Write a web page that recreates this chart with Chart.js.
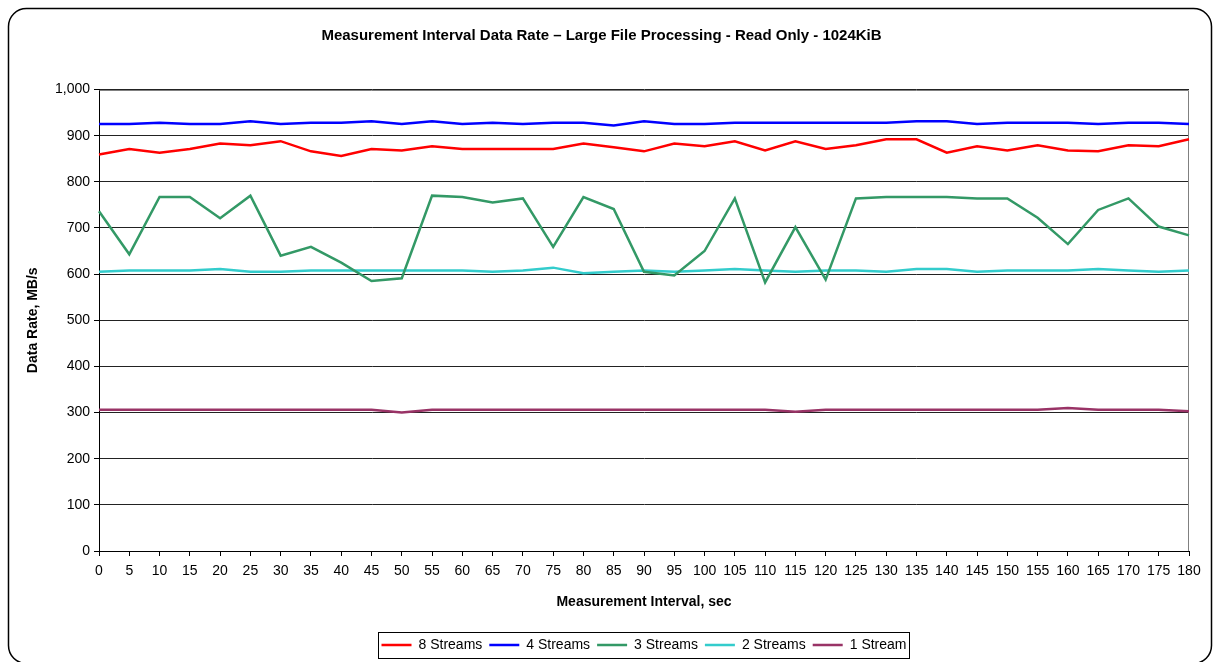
<!DOCTYPE html>
<html>
<head>
<meta charset="utf-8">
<script src="https://cdn.jsdelivr.net/npm/chart.js@4/dist/chart.umd.min.js"></script>
<style>
  html, body { margin: 0; padding: 0; background: #fff; }
  #wrap { width: 1214px; height: 662px; }
</style>
</head>
<body>
<div id="wrap"><canvas id="rateChart" width="1214" height="662"></canvas></div>
<script>
// time axis, seconds
const intervals = ['0', '5', '10', '15', '20', '25', '30', '35', '40', '45', '50', '55', '60',
    '65', '70', '75', '80', '85', '90', '95', '100', '105', '110', '115', '120', '125', '130',
    '135', '140', '145', '150', '155', '160', '165', '170', '175', '180'];

// data rate, MB/s
const streams8 = [859, 871, 863, 871, 883, 879, 888, 866, 856, 871, 868, 877, 871,
    871, 871, 871, 883, 875, 866, 883, 877, 888, 868, 888,
    871, 879, 892, 892, 863, 877, 868, 879, 868, 866, 879, 877, 892];
const streams4 = [925, 925, 928, 925, 925, 931, 925, 928, 928, 931, 925, 931, 925,
    928, 925, 928, 928, 922, 931, 925, 925, 928, 928, 928,
    928, 928, 928, 931, 931, 925, 928, 928, 928, 925, 928, 928, 925];
const streams3 = [736, 643, 767, 767, 721, 770, 640, 659, 625, 585, 591, 770, 767,
    755, 764, 659, 767, 741, 605, 597, 650, 764, 582, 702,
    588, 764, 767, 767, 767, 764, 764, 722, 665, 739, 764, 703, 684];
const streams2 = [605, 608, 608, 608, 611, 605, 605, 608, 608, 608, 608, 608, 608,
    605, 608, 614, 602, 605, 608, 605, 608, 611, 608, 605,
    608, 608, 605, 611, 611, 605, 608, 608, 608, 611, 608, 605, 608];
const stream1 = [306, 306, 306, 306, 306, 306, 306, 306, 306, 306, 300, 306, 306,
    306, 306, 306, 306, 306, 306, 306, 306, 306, 306, 302,
    306, 306, 306, 306, 306, 306, 306, 306, 310, 306, 306, 306, 303];

const FONT = "'Liberation Sans', Arial, sans-serif";

function series(label, data, color) {
    return {
        label: label,
        data: data,
        borderColor: color,
        backgroundColor: color,
        borderWidth: 2.5,
        pointRadius: 0,
        tension: 0
    };
}

// rounded frame + white background, plot border, legend box
const framePlugin = {
    id: 'frame',
    afterUpdate(chart) {
        // centre the legend under the plot area rather than the whole canvas
        const lg = chart.legend;
        const a = chart.chartArea;
        const shift = (a.left + a.right) / 2 - (lg.left + lg.right) / 2;
        lg.left += shift;
        lg.right += shift;
        lg.legendHitBoxes.forEach(h => { h.left += shift; });
    },
    beforeDraw(chart) {
        const ctx = chart.ctx;
        ctx.save();
        ctx.fillStyle = '#fff';
        ctx.fillRect(0, 0, chart.width, chart.height);
        ctx.beginPath();
        ctx.roundRect(8.5, 8.5, 1203, 655, 18);
        ctx.strokeStyle = '#000';
        ctx.lineWidth = 1.5;
        ctx.stroke();
        ctx.restore();
    },
    beforeDatasetsDraw(chart) {
        const a = chart.chartArea;
        const ctx = chart.ctx;
        ctx.save();
        ctx.strokeStyle = '#808080';
        ctx.lineWidth = 1;
        ctx.beginPath();
        ctx.moveTo(Math.round(a.left) + 0.5, Math.round(a.top) + 0.5);
        ctx.lineTo(Math.round(a.right) - 0.5, Math.round(a.top) + 0.5);
        ctx.lineTo(Math.round(a.right) - 0.5, Math.round(a.bottom));
        ctx.stroke();
        ctx.restore();
    },
    afterDraw(chart) {
        const boxes = chart.legend.legendHitBoxes;
        if (!boxes || !boxes.length) return;
        let l = Infinity, r = -Infinity, t = Infinity, b = -Infinity;
        boxes.forEach(h => {
            l = Math.min(l, h.left);
            r = Math.max(r, h.left + h.width);
            t = Math.min(t, h.top);
            b = Math.max(b, h.top + h.height);
        });
        const ctx = chart.ctx;
        ctx.save();
        ctx.strokeStyle = '#000';
        ctx.lineWidth = 1;
        ctx.strokeRect(Math.round(l - 4) + 0.5, Math.round(t - 6) + 0.5, Math.round(r - l + 6), Math.round(b - t + 12));
        ctx.restore();
    }
};

new Chart(document.getElementById('rateChart').getContext('2d'), {
    type: 'line',
    data: {
        labels: intervals,
        datasets: [
            series('8 Streams', streams8, '#ff0000'),
            series('4 Streams', streams4, '#0000ff'),
            series('3 Streams', streams3, '#339966'),
            series('2 Streams', streams2, '#33cccc'),
            series('1 Stream', stream1, '#993366')
        ]
    },
    options: {
        responsive: false,
        animation: false,
        layout: { padding: { left: 14, right: 25, top: 10, bottom: 0 } },
        plugins: {
            title: {
                display: true,
                text: 'Measurement Interval Data Rate \u2013 Large File Processing - Read Only - 1024KiB',
                color: '#000',
                font: { family: FONT, size: 15, weight: 'bold' },
                padding: { top: 17, bottom: 44.5 }
            },
            legend: {
                position: 'bottom',
                labels: {
                    color: '#000',
                    font: { family: FONT, size: 14 },
                    usePointStyle: true,
                    pointStyle: 'line',
                    pointStyleWidth: 30,
                    padding: 7
                }
            },
            tooltip: { enabled: false }
        },
        scales: {
            x: {
                offset: false,
                grid: {
                    drawOnChartArea: false,
                    drawTicks: true,
                    tickLength: 5,
                    color: '#000'
                },
                border: { color: '#000', width: 1 },
                ticks: {
                    color: '#000',
                    font: { family: FONT, size: 14 },
                    maxRotation: 0,
                    autoSkip: false,
                    padding: 7
                },
                title: {
                    display: true,
                    text: 'Measurement Interval, sec',
                    color: '#000',
                    font: { family: FONT, size: 14, weight: 'bold' },
                    padding: { top: 4, bottom: 20 }
                },
                afterFit(s) { s.height = 80; }
            },
            y: {
                min: 0,
                max: 1000,
                grid: {
                    color: '#222',
                    tickLength: 5,
                    tickColor: '#000'
                },
                border: { color: '#000', width: 1 },
                ticks: {
                    stepSize: 100,
                    color: '#000',
                    font: { family: FONT, size: 14 },
                    padding: 4
                },
                title: {
                    display: true,
                    text: 'Data Rate, MB/s',
                    color: '#000',
                    font: { family: FONT, size: 14, weight: 'bold' },
                    padding: { top: 11, bottom: 0 }
                },
                afterFit(s) { s.width = 85; }
            }
        }
    },
    plugins: [framePlugin]
});
</script>
</body>
</html>
